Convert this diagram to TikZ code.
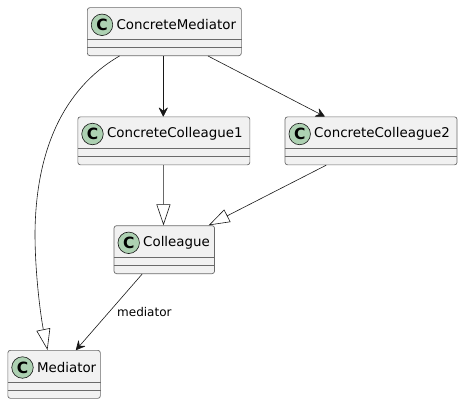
\documentclass[tikz,border=0pt]{standalone}
\usepackage{fontspec}
\setmainfont{DejaVu Sans}
\usetikzlibrary{arrows.meta,calc}
\definecolor{boxfill}{HTML}{F1F1F1}
\definecolor{boxline}{HTML}{6A6A6A}
\definecolor{spot}{HTML}{ADD1B2}
\definecolor{ink}{HTML}{181818}
\tikzset{
  x=1pt,y=-1pt,
  classbox/.style={draw=boxline,fill=boxfill,line width=0.7pt,rounded corners=2.5pt,inner sep=0pt,anchor=north west,minimum height=48pt},
  spotc/.style={circle,draw=ink,fill=spot,line width=0.6pt,minimum size=21.5pt,inner sep=0pt,font=\fontsize{15.5}{15.5}\selectfont\bfseries},
  classname/.style={font=\fontsize{13.4}{15}\selectfont,text=black,inner sep=0pt,anchor=west},
  divider/.style={draw=boxline,line width=0.7pt},
  link/.style={draw=ink,line width=0.6pt},
  assoc/.style={link,-{Stealth[length=10pt,width=10pt,inset=4pt,round]}},
  inherit/.style={link,-{Triangle[open,length=21pt,width=14pt,fill=white]}},
  edgelabel/.style={font=\fontsize{12}{14}\selectfont,text=black,inner sep=0pt},
}
\newcommand{\classnode}[5]{%
  \node[classbox,minimum width=#4pt] (#1) at (#2,#3) {};
  \node[spotc] (#1c) at ($(#1.north west)+(15,17.5)$) {C};
  \node[classname] (#1t) at ($(#1.north west)+(29.3,17.5)$) {#5};
  \draw[divider] ($(#1.north west)+(0,32)$) -- ($(#1.north east)+(0,32)$);
  \draw[divider] ($(#1.north west)+(0,40)$) -- ($(#1.north east)+(0,40)$);
}
\begin{document}
\begin{tikzpicture}
\useasboundingbox (0,0) rectangle (462,404);
\classnode{cm}{87}{7.3}{154}{ConcreteMediator}
\classnode{ca}{77.5}{116.5}{172}{ConcreteColleague1}
\classnode{cb}{284.7}{116.5}{172}{ConcreteColleague2}
\classnode{co}{113.7}{225.3}{100.5}{Colleague}
\classnode{me}{7.5}{350}{92.5}{Mediator}
\coordinate (bend) at (35,233);
% connectors
\draw[assoc] ([xshift=76.3pt]cm.south west) -- ([xshift=85.8pt]ca.north west);
\draw[assoc] ([xshift=121pt]cm.south west) -- ([xshift=40pt]cb.north west);
\draw[inherit] ([xshift=32.5pt]cm.south west) .. controls (78,80) and (36,130) .. (bend) .. controls (35,275) and (41,318) .. ([xshift=40pt]me.north west);
\draw[inherit] ([xshift=85.8pt]ca.south west) -- ([xshift=49.8pt]co.north west);
\draw[inherit] ([xshift=41.5pt]cb.south west) -- ([xshift=95pt]co.north west);
\draw[assoc] ([xshift=28.5pt]co.south west) -- ([xshift=68.5pt]me.north west);
\node[edgelabel,anchor=west] (ml) at (117,312) {mediator};
\end{tikzpicture}
\end{document}
